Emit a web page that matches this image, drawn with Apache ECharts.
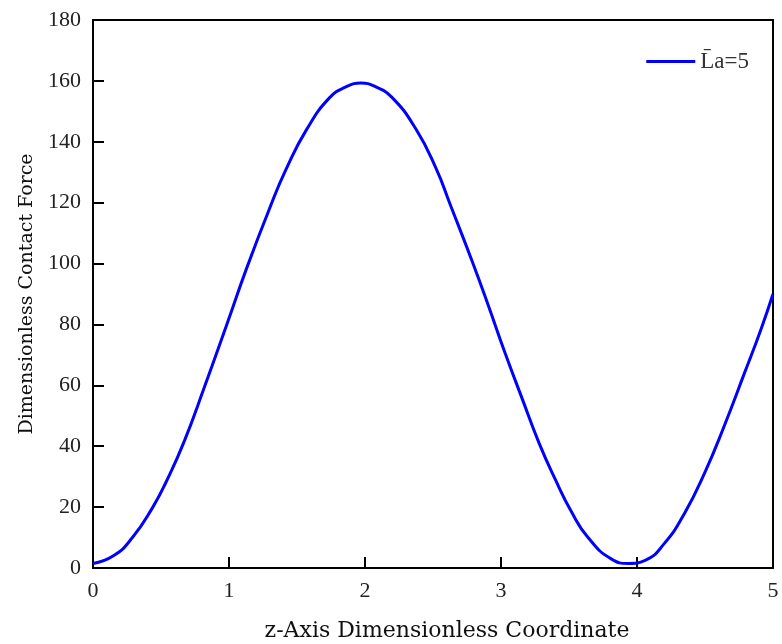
<!DOCTYPE html>
<html>
<head>
<meta charset="utf-8">
<script src="https://cdn.jsdelivr.net/npm/echarts@6/dist/echarts.min.js"></script>
<style>html,body{margin:0;padding:0;background:#fff;}#c{width:782px;height:644px;}</style>
</head>
<body>
<div id="c"></div>
<script>
const zCoord = [0, 0.15, 0.29, 0.44, 0.54, 0.67, 0.82, 0.98, 1.13, 1.30, 1.42, 1.57, 1.74, 1.86, 1.97, 2.08, 2.20, 2.37, 2.52, 2.63, 2.79, 2.91, 3.03, 3.15, 3.28, 3.40, 3.52, 3.64, 3.81, 3.94, 4.06, 4.20, 4.35, 4.50, 4.64, 4.79, 4.91, 5.0];
const force  = [1.5, 4, 10, 20, 28.5, 41.5, 59.5, 79.5, 98.5, 118.3, 131, 144, 154.5, 158, 159.3, 158, 154.5, 144.5, 131.5, 119, 100.5, 85.8, 70.6, 56.3, 41, 29, 18.3, 10, 3, 1.5, 2.5, 8, 18, 31.5, 46.5, 64, 78.2, 90];
const seriesName = 'L\u0304a=5';
const xTitle = 'z-Axis Dimensionless Coordinate';
const yTitle = 'Dimensionless Contact Force';

const chart = echarts.init(document.getElementById('c'), null, {renderer: 'canvas'});
const tickFont = {fontFamily: 'Liberation Serif', fontSize: 22, color: '#222'};
chart.setOption({
  animation: false,
  grid: {left: 93, right: 9, top: 20, bottom: 76, containLabel: false, outerBoundsMode: 'none'},
  legend: {
    data: [{name: seriesName, icon: 'rect'}], right: 28, top: 45, itemWidth: 49, itemHeight: 3, itemGap: 9,
    textStyle: {fontFamily: 'Liberation Serif', fontSize: 23, color: '#333'}
  },
  xAxis: [{
    type: 'value', min: 0, max: 5, interval: 1,
    name: xTitle, nameLocation: 'middle', nameGap: 52,
    nameTextStyle: {fontFamily: 'DejaVu Serif', fontSize: 22, color: '#111', padding: [0, 0, 0, 28]},
    axisLine: {lineStyle: {color: '#000', width: 2}},
    axisTick: {inside: true, length: 11, lineStyle: {color: '#000', width: 2}},
    axisLabel: Object.assign({margin: 12}, tickFont),
    splitLine: {show: false}
  }, {
    type: 'value', position: 'top', min: 0, max: 5,
    axisLine: {show: true, onZero: false, lineStyle: {color: '#000', width: 2}},
    axisTick: {show: false}, axisLabel: {show: false}, splitLine: {show: false}
  }],
  yAxis: [{
    type: 'value', min: 0, max: 180, interval: 20,
    name: yTitle, nameLocation: 'middle', nameGap: 56,
    nameTextStyle: {fontFamily: 'DejaVu Serif', fontSize: 19, color: '#111'},
    axisLine: {lineStyle: {color: '#000', width: 2}},
    axisTick: {inside: true, length: 11, lineStyle: {color: '#000', width: 2}},
    axisLabel: Object.assign({margin: 12}, tickFont),
    splitLine: {show: false}
  }, {
    type: 'value', position: 'right', min: 0, max: 180,
    axisLine: {show: true, onZero: false, lineStyle: {color: '#000', width: 2}},
    axisTick: {show: false}, axisLabel: {show: false}, splitLine: {show: false}
  }],
  series: [{
    name: seriesName, type: 'line', smooth: 0.5, symbol: 'none',
    lineStyle: {color: '#0000ff', width: 3}, itemStyle: {color: '#0000ff'},
    data: zCoord.map((z, i) => [z, force[i]])
  }]
});
</script>
</body>
</html>
